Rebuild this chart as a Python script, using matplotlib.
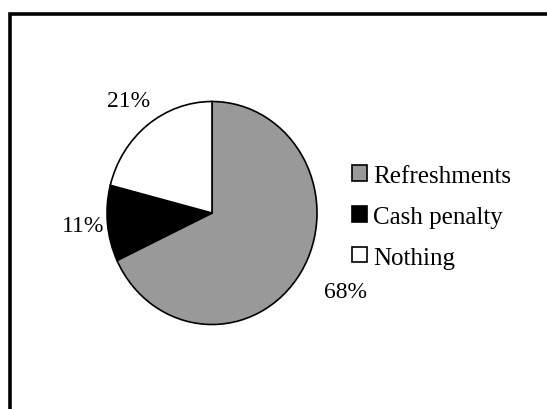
import numpy as np
import matplotlib.pyplot as plt
from matplotlib.patches import Rectangle

labels = ['Refreshments', 'Cash penalty', 'Nothing']
shares = [68, 11, 21]
colors = ['#999999', '#000000', '#ffffff']

plt.rcParams['font.family'] = ['Liberation Serif', 'DejaVu Serif']

W, H = 547, 410
fig = plt.figure(figsize=(W / 100, H / 100), dpi=100)

# pie box in pixels (slightly taller than wide)
cx, cy, rx, ry = 212, 214, 105, 111.5
ax = fig.add_axes([(cx - rx) / W, (H - cy - ry) / H, 2 * rx / W, 2 * ry / H])

wedges, texts, autotexts = ax.pie(
    shares, colors=colors, startangle=90, counterclock=False,
    autopct='%1.0f%%', pctdistance=1.3,
    wedgeprops=dict(edgecolor='black', linewidth=1.2),
    textprops=dict(fontsize=17, color='black'),
)
ax.set_aspect('auto')
ax.set_xlim(-1, 1)
ax.set_ylim(-1, 1)

# push each percentage out to its own distance / angle from the centre
label_radius = [1.45, 1.23, 1.28]
label_nudge = [3.5, 0, 0.5]
for w, t, r, d in zip(wedges, autotexts, label_radius, label_nudge):
    mid = np.deg2rad((w.theta1 + w.theta2) / 2 + d)
    t.set_position((r * np.cos(mid), r * np.sin(mid)))

fig.legend(wedges, labels, loc='upper left',
           bbox_to_anchor=(352 / W, 1 - 166 / H),
           frameon=False, fontsize=18, handlelength=0.58, handleheight=0.58,
           handletextpad=0.25, labelspacing=0.75, borderpad=0, borderaxespad=0)

# outer frame, right and bottom edges run off the image
fig.patches.append(Rectangle((10 / W, -0.2), 1.2, 1 - 14.5 / H + 0.2,
                             transform=fig.transFigure, fill=False,
                             edgecolor='black', linewidth=2.6))

fig.savefig('out.png', dpi=100)
